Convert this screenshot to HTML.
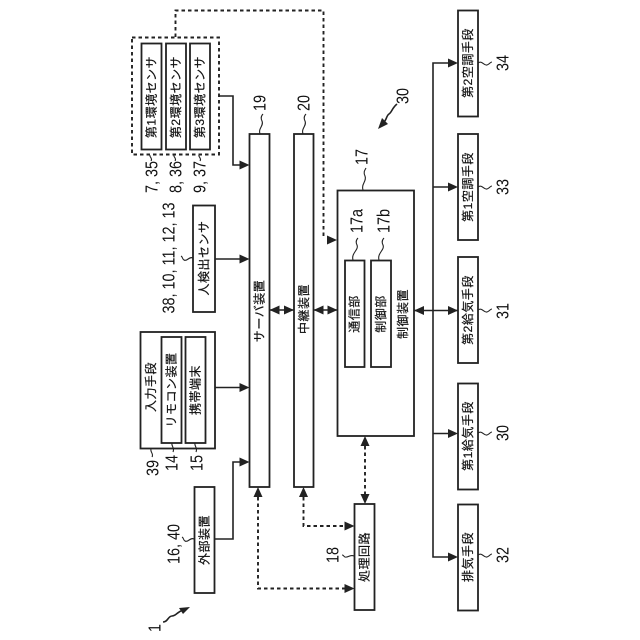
<!DOCTYPE html>
<html><head><meta charset="utf-8">
<style>
html,body{margin:0;padding:0;background:#fff}
svg{display:block}
text{fill:#111;text-anchor:middle;dominant-baseline:central;font-family:"Liberation Sans","Noto Sans CJK JP",sans-serif}
.j{font-size:12px;letter-spacing:.5px;stroke:#111;stroke-width:.2}
.n{font-size:18px}
.b{fill:#fff;stroke:#222;stroke-width:1.8}
.l{fill:none;stroke:#222;stroke-width:1.6}
.d{fill:none;stroke:#222;stroke-width:1.9;stroke-dasharray:3.500 3}
.s{fill:none;stroke:#222;stroke-width:1.1}
</style></head><body>
<svg width="640" height="640" viewBox="0 0 640 640" xmlns="http://www.w3.org/2000/svg">
<defs>
<path id="ar" d="M0 0L-10 -4.500L-10 4.500Z" fill="#222"/>
</defs>

<!-- sensor group -->
<rect x="132" y="37.500" width="87" height="117" fill="none" stroke="#222" stroke-width="1.900" stroke-dasharray="3.500 3"/>
<rect class="b" x="141.500" y="43.500" width="20" height="106"/>
<rect class="b" x="166" y="43.500" width="20" height="106"/>
<rect class="b" x="190" y="43.500" width="20" height="106"/>
<text class="j" transform="translate(151.500,97) rotate(-90)">第1環境センサ</text>
<text class="j" transform="translate(176,97) rotate(-90)">第2環境センサ</text>
<text class="j" transform="translate(200,97) rotate(-90)">第3環境センサ</text>

<!-- dashed top line -->
<path class="d" d="M175.500 37V10.500H323.500V239"/>
<use href="#ar" transform="translate(337,240)"/>

<!-- main boxes -->
<rect class="b" x="249.500" y="134" width="20" height="353"/>
<rect class="b" x="294" y="134" width="19.500" height="353"/>
<rect class="b" x="337.500" y="190.500" width="76.500" height="245.500"/>
<rect class="b" x="345" y="260.500" width="19.500" height="106.500"/>
<rect class="b" x="371" y="260.500" width="20" height="106.500"/>
<text class="j" transform="translate(259.500,311) rotate(-90)">サーバ装置</text>
<text class="j" transform="translate(304,309) rotate(-90)">中継装置</text>
<text class="j" transform="translate(354.500,314) rotate(-90)">通信部</text>
<text class="j" transform="translate(381,314) rotate(-90)">制御部</text>
<text class="j" transform="translate(403,314) rotate(-90)">制御装置</text>

<!-- left boxes -->
<rect class="b" x="193" y="205.500" width="22" height="106.500"/>
<text class="j" transform="translate(204,258) rotate(-90)">人検出センサ</text>
<rect class="b" x="140.500" y="332" width="74.500" height="116.500"/>
<rect class="b" x="161.500" y="337" width="20" height="106"/>
<rect class="b" x="185.500" y="337" width="20" height="106"/>
<text class="j" transform="translate(151,387) rotate(-90)">入力手段</text>
<text class="j" transform="translate(171.500,390) rotate(-90)">リモコン装置</text>
<text class="j" transform="translate(195.500,390) rotate(-90)">携帯端末</text>
<rect class="b" x="194.500" y="487" width="20" height="106"/>
<text class="j" transform="translate(204.500,540) rotate(-90)">外部装置</text>
<rect class="b" x="354.500" y="504" width="20" height="106"/>
<text class="j" transform="translate(364.500,557) rotate(-90)">処理回路</text>

<!-- right boxes -->
<rect class="b" x="458" y="10.500" width="20" height="106"/>
<rect class="b" x="458" y="134" width="20" height="106"/>
<rect class="b" x="458" y="257" width="20" height="106"/>
<rect class="b" x="458" y="383.500" width="20" height="106"/>
<rect class="b" x="458" y="504.500" width="20" height="106"/>
<text class="j" transform="translate(468,63) rotate(-90)">第2空調手段</text>
<text class="j" transform="translate(468,187) rotate(-90)">第1空調手段</text>
<text class="j" transform="translate(468,310) rotate(-90)">第2給気手段</text>
<text class="j" transform="translate(468,436) rotate(-90)">第1給気手段</text>
<text class="j" transform="translate(468,557) rotate(-90)">排気手段</text>

<!-- solid connectors -->
<path class="l" d="M219 96H233V165H240"/><use href="#ar" transform="translate(249.500,165)"/>
<path class="l" d="M215 259H240"/><use href="#ar" transform="translate(249.500,259)"/>
<path class="l" d="M215 387.500H240"/><use href="#ar" transform="translate(249.500,387.500)"/>
<path class="l" d="M214.500 539H233V462H240"/><use href="#ar" transform="translate(249.500,462)"/>
<path class="l" d="M269.500 310H294"/>
<use href="#ar" transform="translate(294,310)"/><use href="#ar" transform="translate(269.500,310) rotate(180)"/>
<path class="l" d="M313.500 310H337.500"/>
<use href="#ar" transform="translate(337.500,310)"/><use href="#ar" transform="translate(313.500,310) rotate(180)"/>
<path class="l" d="M414 310.500H458"/>
<use href="#ar" transform="translate(458,310.500)"/><use href="#ar" transform="translate(414,310.500) rotate(180)"/>
<path class="l" d="M449 63H433V557H449M433 187H449M433 433.500H449"/>
<use href="#ar" transform="translate(458,63)"/>
<use href="#ar" transform="translate(458,187)"/>
<use href="#ar" transform="translate(458,433.500)"/>
<use href="#ar" transform="translate(458,557)"/>

<!-- dashed connectors -->
<path class="d" d="M365 446V494"/>
<use href="#ar" transform="translate(365,436) rotate(-90)"/><use href="#ar" transform="translate(365,504) rotate(90)"/>
<path class="d" d="M303.500 497V526H345"/>
<use href="#ar" transform="translate(303.500,487) rotate(-90)"/><use href="#ar" transform="translate(354.500,526)"/>
<path class="d" d="M258 497V588.500H345"/>
<use href="#ar" transform="translate(258,487) rotate(-90)"/><use href="#ar" transform="translate(354.500,588.500)"/>

<!-- squiggles -->
<path class="s" d="M260 134C258 128 264 126 262 121C260 117 262 115 263 114"/>
<path class="s" d="M303 134C301 128 307 126 305 121C303 117 305 115 306 114"/>
<path class="s" d="M363 190C361 184 367 181 365 176C363 172 365 170 366 168"/>
<path class="s" d="M353 260C351 253 359 250 357 245C355 241 357 239 358 238"/>
<path class="s" d="M379 260C377 253 385 250 383 245C381 241 383 239 384 238"/>
<path class="s" d="M150 155C149 157 153 158 151 161M174 155C173 157 177 158 175 161M199 155C198 157 202 158 200 161"/>
<path class="s" d="M193 258C189 256 187 262 184 260C182 259 183 257 181 256"/>
<path class="s" d="M151 449C150 452 154 454 152 457M172 443C171 446 175 448 173 452M195 443C194 446 198 448 196 452"/>
<path class="s" d="M194 539C190 537 188 543 185 541C183 540 184 538 182 537"/>
<path class="s" d="M354 556C350 554 348 558 345 557C343 556 344 555 342 555"/>
<path class="s" d="M478 63C482 60 484 66 487 65C490 64 490 62 492 62"/>
<path class="s" d="M478 187C482 184 484 190 487 189C490 188 490 186 492 186"/>
<path class="s" d="M478 310C482 307 484 313 487 312C490 311 490 309 492 309"/>
<path class="s" d="M478 433C482 430 484 436 487 435C490 434 490 432 492 432"/>
<path class="s" d="M478 555C482 552 484 558 487 557C490 556 490 554 492 554"/>
<path class="l" d="M163 622C168 622 168 616 172 616C176 616 177 612 183 610"/>
<path d="M190 607L179 608L183 614Z" fill="#222"/>
<path class="l" d="M397 104C392 108 392 112 389 114C386 116 387 120 383 123"/>
<path d="M378 129L382 118L388 124Z" fill="#222"/>

<!-- labels -->
<text class="n" transform="translate(152,177) rotate(-90) scale(.8,1)">7, 35</text>
<text class="n" transform="translate(176,177) rotate(-90) scale(.8,1)">8, 36</text>
<text class="n" transform="translate(200,177) rotate(-90) scale(.8,1)">9, 37</text>
<text class="n" transform="translate(260,103) rotate(-90) scale(.8,1)">19</text>
<text class="n" transform="translate(304,103) rotate(-90) scale(.8,1)">20</text>
<text class="n" transform="translate(403,96) rotate(-90) scale(.8,1)">30</text>
<text class="n" transform="translate(362,157) rotate(-90) scale(.8,1)">17</text>
<text class="n" transform="translate(357,221) rotate(-90) scale(.8,1)">17a</text>
<text class="n" transform="translate(384,221) rotate(-90) scale(.8,1)">17b</text>
<text class="n" transform="translate(169,258) rotate(-90) scale(.8,1)">38, 10, 11, 12, 13</text>
<text class="n" transform="translate(153,468) rotate(-90) scale(.8,1)">39</text>
<text class="n" transform="translate(172,463) rotate(-90) scale(.8,1)">14</text>
<text class="n" transform="translate(197,463) rotate(-90) scale(.8,1)">15</text>
<text class="n" transform="translate(174,544) rotate(-90) scale(.8,1)">16, 40</text>
<text class="n" transform="translate(333,555) rotate(-90) scale(.8,1)">18</text>
<text class="n" transform="translate(155,628) rotate(-90) scale(.8,1)">1</text>
<text class="n" transform="translate(503,63) rotate(-90) scale(.8,1)">34</text>
<text class="n" transform="translate(503,187) rotate(-90) scale(.8,1)">33</text>
<text class="n" transform="translate(503,311) rotate(-90) scale(.8,1)">31</text>
<text class="n" transform="translate(503,433) rotate(-90) scale(.8,1)">30</text>
<text class="n" transform="translate(503,555) rotate(-90) scale(.8,1)">32</text>
</svg>
</body></html>
